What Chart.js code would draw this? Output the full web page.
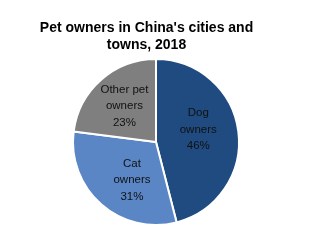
<!DOCTYPE html>
<html>
<head>
<meta charset="utf-8">
<script src="https://cdn.jsdelivr.net/npm/chart.js@4/dist/chart.umd.min.js"></script>
<style>
  html, body { margin: 0; padding: 0; background: #fff; }
  #wrap { width: 316px; height: 250px; }
</style>
</head>
<body>
<div id="wrap"><canvas id="pets"></canvas></div>
<script>
const categories = ['Dog owners', 'Cat owners', 'Other pet owners'];
const labelLines = [['Dog', 'owners'], ['Cat', 'owners'], ['Other pet', 'owners']];
const shares = [46, 31, 23];
const sliceColors = ['#1f4b80', '#5a86c5', '#7f7f7f'];
const titleLines = ["Pet owners in China's cities and", 'towns, 2018'];

const FONT = "'Liberation Sans', Arial, Helvetica, sans-serif";

// label placement tweaks per slice (deg turn, fraction of radius), like moved by hand in excel
const labelTurn = [-9, -9, 0];
const labelDist = [0.53, 0.54, 0.575];

// writes the name and % inside each slice
const sliceLabels = {
    id: 'sliceLabels',
    afterDatasetsDraw(chart) {
        const ctx = chart.ctx;
        const meta = chart.getDatasetMeta(0);
        ctx.save();
        ctx.font = '11.5px ' + FONT;
        ctx.fillStyle = '#111';
        ctx.textAlign = 'center';
        ctx.textBaseline = 'middle';
        meta.data.forEach((arc, i) => {
            const p = arc.getProps(['x', 'y', 'startAngle', 'endAngle', 'outerRadius'], true);
            const mid = (p.startAngle + p.endAngle) / 2 + labelTurn[i] * Math.PI / 180;
            const cx = p.x + Math.cos(mid) * p.outerRadius * labelDist[i];
            const cy = p.y + Math.sin(mid) * p.outerRadius * labelDist[i];
            const lines = labelLines[i].concat([shares[i] + '%']);
            const lh = 16.5;
            lines.forEach((t, j) => {
                ctx.fillText(t, cx, cy + (j - (lines.length - 1) / 2) * lh);
            });
        });
        ctx.restore();
    }
};

const ctx = document.getElementById('pets').getContext('2d');
const myChart = new Chart(ctx, {
    type: 'pie',
    data: {
        labels: categories,
        datasets: [{
            data: shares,
            backgroundColor: sliceColors,
            borderColor: '#ffffff',
            borderWidth: 2
        }]
    },
    options: {
        responsive: true,
        maintainAspectRatio: false,
        animation: false,
        layout: { padding: { left: 0, right: 23, top: 0, bottom: 24 } },
        plugins: {
            // empty legend on the left, only used to push the pie right of the title
            legend: {
                display: true,
                position: 'left',
                labels: { padding: 9, filter: () => false }
            },
            tooltip: { enabled: false },
            title: {
                display: true,
                text: titleLines,
                color: '#000',
                font: { family: FONT, size: 14, weight: 'bold', lineHeight: 1.25 },
                padding: { top: 19, bottom: 4 }
            }
        }
    },
    plugins: [sliceLabels]
});
</script>
</body>
</html>
